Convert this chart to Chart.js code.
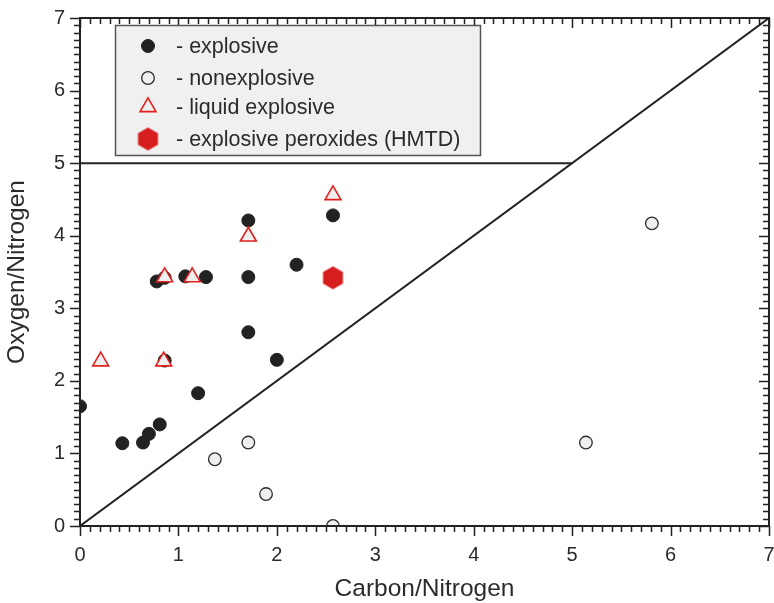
<!DOCTYPE html>
<html>
<head>
<meta charset="utf-8">
<title>Oxygen/Nitrogen vs Carbon/Nitrogen</title>
<script src="https://cdn.jsdelivr.net/npm/chart.js@4.4.1/dist/chart.umd.min.js"></script>
<style>
  html, body { margin: 0; padding: 0; background: #fff; }
  canvas { display: block; }
</style>
</head>
<body>
<canvas id="ratioChart" width="774" height="603"></canvas>
<script>
// Compound ratios (carbon/nitrogen, oxygen/nitrogen)
const explosiveX = [0.00, 0.43, 0.64, 0.70, 0.81, 0.78, 0.86, 0.86, 1.07, 1.20, 1.28, 1.71, 1.71, 1.71, 2.00, 2.20, 2.57];
const explosiveY = [1.65, 1.14, 1.15, 1.27, 1.40, 3.37, 3.42, 2.28, 3.44, 1.83, 3.43, 2.67, 3.43, 4.21, 2.29, 3.60, 4.28];

const nonexplosiveX = [1.37, 1.71, 1.89, 2.57, 5.14, 5.81];
const nonexplosiveY = [0.92, 1.15, 0.44, 0.00, 1.15, 4.17];

const liquidX = [0.21, 0.85, 0.86, 1.14, 1.71, 2.57];
const liquidY = [2.27, 2.27, 3.43, 3.43, 3.99, 4.56];

const peroxideX = [2.57];
const peroxideY = [3.42];

// Boundary lines: O/N = C/N and O/N = 5
const diagonalX = [0, 7];
const diagonalY = [0, 7];
const limitX = [0, 5];
const limitY = [5, 5];

const axisMin = 0;
const axisMax = 7;

const legendLabels = ['- explosive', '- nonexplosive', '- liquid explosive', '- explosive peroxides (HMTD)'];

const FONT = '"Liberation Sans", Arial, Helvetica, sans-serif';
const TEXT = '#2b2b2b';
const INK = '#222';

const toPoints = (xs, ys) => xs.map((x, i) => ({ x: x, y: ys[i] }));

// hexagon marker for the peroxide point
function makeHexagon(r, color) {
    const c = document.createElement('canvas');
    const size = Math.ceil(r * 2) + 2;
    c.width = size;
    c.height = size;
    const g = c.getContext('2d');
    g.fillStyle = color;
    g.beginPath();
    for (let k = 0; k < 6; k++) {
        const a = -Math.PI / 2 + k * Math.PI / 3;
        const px = size / 2 + r * Math.cos(a);
        const py = size / 2 + r * Math.sin(a);
        if (k === 0) g.moveTo(px, py); else g.lineTo(px, py);
    }
    g.closePath();
    g.fill();
    return c;
}
const hexagon = makeHexagon(11.5, '#d71e1e');

const markerStyles = [
    { pointStyle: 'circle', radius: 6.5, fill: INK, stroke: INK, width: 1 },
    { pointStyle: 'circle', radius: 6.3, fill: '#efefef', stroke: '#2b2b2b', width: 1.3 },
    { pointStyle: 'triangle', radius: 9.2, fill: '#efefef', stroke: '#e2201c', width: 1.6 },
    { pointStyle: hexagon, radius: 11.5, fill: '#d71e1e', stroke: '#d71e1e', width: 0 }
];

// inward/outward minor and major ticks plus the frame
const frameTicks = {
    id: 'frameTicks',
    afterDraw(chart) {
        const { ctx, chartArea: a, scales: { x, y } } = chart;
        ctx.save();
        ctx.strokeStyle = INK;
        ctx.lineWidth = 1.5;
        ctx.beginPath();
        for (let i = 0; i <= 70; i++) {
            const v = i / 10;
            const len = i % 10 === 0 ? 10 : 6;
            const px = Math.round(x.getPixelForValue(v)) + 0.5;
            const py = Math.round(y.getPixelForValue(v)) + 0.5;
            // bottom (outward) and top (inward)
            ctx.moveTo(px, a.bottom); ctx.lineTo(px, a.bottom + len);
            ctx.moveTo(px, a.top); ctx.lineTo(px, a.top + len);
            // left (outward) and right (inward)
            ctx.moveTo(a.left, py); ctx.lineTo(a.left - len, py);
            ctx.moveTo(a.right, py); ctx.lineTo(a.right - len, py);
        }
        ctx.stroke();
        ctx.lineWidth = 2;
        ctx.strokeRect(a.left, a.top, a.right - a.left, a.bottom - a.top);
        ctx.restore();
    }
};

// legend box drawn inside the plot
const boxLegend = {
    id: 'boxLegend',
    afterDraw(chart) {
        const ctx = chart.ctx;
        const bx = 115.5, by = 25.5, bw = 365, bh = 130;
        const rows = [46, 78, 107, 139];
        ctx.save();
        ctx.fillStyle = '#f0f0f0';
        ctx.strokeStyle = '#555';
        ctx.lineWidth = 1.5;
        ctx.fillRect(bx, by, bw, bh);
        ctx.strokeRect(bx, by, bw, bh);
        markerStyles.forEach((m, i) => {
            ctx.fillStyle = m.fill;
            ctx.strokeStyle = m.stroke;
            ctx.lineWidth = m.width;
            Chart.helpers.drawPoint(ctx, { pointStyle: m.pointStyle, radius: m.radius, rotation: 0, borderWidth: m.width }, 148, rows[i]);
            ctx.fillStyle = TEXT;
            ctx.font = '21.5px ' + FONT;
            ctx.textBaseline = 'middle';
            ctx.textAlign = 'left';
            ctx.fillText(legendLabels[i], 176, rows[i] + 1);
        });
        ctx.restore();
    }
};

function scatterSet(label, xs, ys, m) {
    return {
        label: label,
        data: toPoints(xs, ys),
        pointStyle: m.pointStyle,
        pointRadius: m.radius,
        pointHoverRadius: m.radius,
        backgroundColor: m.fill,
        borderColor: m.stroke,
        borderWidth: m.width,
        showLine: false
    };
}

function lineSet(label, xs, ys) {
    return {
        label: label,
        data: toPoints(xs, ys),
        showLine: true,
        borderColor: INK,
        borderWidth: 2,
        pointRadius: 0,
        fill: false
    };
}

const ctx = document.getElementById('ratioChart').getContext('2d');
new Chart(ctx, {
    type: 'scatter',
    data: {
        datasets: [
            scatterSet(legendLabels[3], peroxideX, peroxideY, markerStyles[3]),
            scatterSet(legendLabels[2], liquidX, liquidY, markerStyles[2]),
            scatterSet(legendLabels[0], explosiveX, explosiveY, markerStyles[0]),
            scatterSet(legendLabels[1], nonexplosiveX, nonexplosiveY, markerStyles[1]),
            lineSet('O/N = C/N', diagonalX, diagonalY),
            lineSet('O/N = 5', limitX, limitY)
        ]
    },
    options: {
        responsive: false,
        animation: false,
        layout: { autoPadding: false, padding: { left: 0, right: 5, top: 18, bottom: 0 } },
        plugins: {
            legend: { display: false },
            tooltip: { enabled: false }
        },
        scales: {
            x: {
                type: 'linear',
                min: axisMin,
                max: axisMax,
                grid: { display: false, drawTicks: false },
                border: { display: false },
                ticks: { stepSize: 1, padding: 17, color: TEXT, font: { family: FONT, size: 20 } },
                title: { display: true, text: 'Carbon/Nitrogen', color: TEXT, font: { family: FONT, size: 24.5 }, padding: { top: 0, bottom: -1 } },
                afterFit(scale) { scale.height = 77; scale.paddingLeft = 0; scale.paddingRight = 0; }
            },
            y: {
                type: 'linear',
                min: axisMin,
                max: axisMax,
                grid: { display: false, drawTicks: false },
                border: { display: false },
                ticks: { stepSize: 1, padding: 15, color: TEXT, font: { family: FONT, size: 20 } },
                title: { display: true, text: 'Oxygen/Nitrogen', color: TEXT, font: { family: FONT, size: 24.5 }, padding: { top: 3, bottom: 0 } },
                afterFit(scale) { scale.width = 80; scale.paddingTop = 0; scale.paddingBottom = 0; }
            }
        }
    },
    plugins: [frameTicks, boxLegend]
});
</script>
</body>
</html>
